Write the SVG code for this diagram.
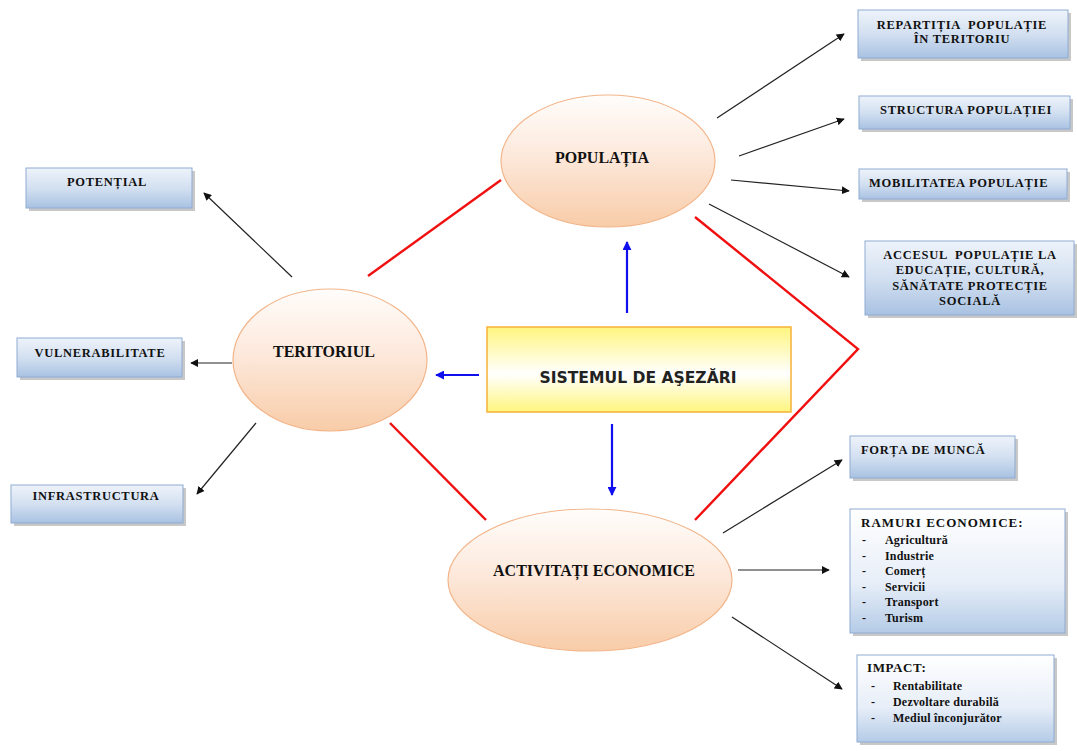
<svg xmlns="http://www.w3.org/2000/svg" width="1077" height="751" viewBox="0 0 1077 751">
<defs>
<linearGradient id="gEll" x1="0" y1="0" x2="0" y2="1">
<stop offset="0" stop-color="#fffdfb"/>
<stop offset="0.45" stop-color="#fde9dc"/>
<stop offset="1" stop-color="#f8cca8"/>
</linearGradient>
<linearGradient id="gBox" x1="0" y1="0" x2="0" y2="1">
<stop offset="0" stop-color="#eef3fa"/>
<stop offset="0.5" stop-color="#d3e0f1"/>
<stop offset="1" stop-color="#a9c2e2"/>
</linearGradient>
<linearGradient id="gBoxV" x1="0" y1="0" x2="0" y2="1">
<stop offset="0" stop-color="#ffffff"/>
<stop offset="0.6" stop-color="#e7eef8"/>
<stop offset="1" stop-color="#b4cbe7"/>
</linearGradient>
<linearGradient id="gSys" x1="0" y1="0" x2="0" y2="1">
<stop offset="0" stop-color="#fff57e"/>
<stop offset="0.55" stop-color="#ffffff"/>
<stop offset="1" stop-color="#fff57e"/>
</linearGradient>
<marker id="ab" viewBox="0 0 10 10" refX="9" refY="5" markerWidth="8" markerHeight="8" markerUnits="userSpaceOnUse" orient="auto">
<path d="M0,0 L10,5 L0,10 z" fill="#111"/>
</marker>
<marker id="abl" viewBox="0 0 10 10" refX="9" refY="5" markerWidth="9" markerHeight="9" markerUnits="userSpaceOnUse" orient="auto">
<path d="M0,0 L10,5 L0,10 z" fill="#1010ee"/>
</marker>
</defs>
<style>
.ell{fill:url(#gEll);stroke:#f2b58a;stroke-width:1.2}
.box{fill:url(#gBox);stroke:#8fabd4;stroke-width:1}
.boxv{fill:url(#gBoxV);stroke:#8fabd4;stroke-width:1}
.sh{fill:#9a9a9a;opacity:0.55}
.t{font-family:"Liberation Serif","Times New Roman",serif;font-weight:bold;fill:#111}
.bt{font-size:12.5px;letter-spacing:0.7px}
.li{font-size:12px;letter-spacing:0.2px}
.el{font-size:16px}
.arr{stroke:#222;stroke-width:1.2;fill:none;marker-end:url(#ab)}
.blue{stroke:#1010ee;stroke-width:2.2;fill:none;marker-end:url(#abl)}
.red{stroke:#f01010;stroke-width:2.4;fill:none}
</style>
<rect width="1077" height="751" fill="#ffffff"/>

<g id="connectors">
<polyline class="red" points="368,276 501,180"/>
<polyline class="red" points="390,423 486,520"/>
<polyline class="red" points="695,217 858,349 695,520"/>
<line class="blue" x1="627" y1="313" x2="627" y2="242"/>
<line class="blue" x1="479" y1="375" x2="436" y2="375"/>
<line class="blue" x1="612" y1="424" x2="612" y2="495"/>
<line class="arr" x1="717" y1="118" x2="844" y2="34"/>
<line class="arr" x1="739" y1="156" x2="844" y2="119"/>
<line class="arr" x1="731" y1="180" x2="849" y2="191"/>
<line class="arr" x1="709" y1="204" x2="849" y2="277"/>
<line class="arr" x1="292" y1="277" x2="204" y2="193"/>
<line class="arr" x1="232" y1="363" x2="191" y2="363"/>
<line class="arr" x1="256" y1="423" x2="197" y2="494"/>
<line class="arr" x1="723" y1="533" x2="842" y2="460"/>
<line class="arr" x1="738" y1="570" x2="829" y2="570"/>
<line class="arr" x1="732" y1="617" x2="842" y2="689"/>
</g>

<g id="populatia">
<ellipse class="ell" cx="608" cy="161" rx="107" ry="66"/>
<text class="t el" x="602" y="163" text-anchor="middle">POPULAȚIA</text>
</g>
<g id="teritoriul">
<ellipse class="ell" cx="330" cy="360" rx="97" ry="71"/>
<text class="t el" x="324" y="357" text-anchor="middle">TERITORIUL</text>
</g>
<g id="activitati">
<ellipse class="ell" cx="590" cy="580" rx="142" ry="71"/>
<text class="t el" x="594" y="576" text-anchor="middle">ACTIVITAȚI ECONOMICE</text>
</g>
<g id="sistemul">
<rect x="487" y="327" width="304" height="85" fill="url(#gSys)" stroke="#f5b13a" stroke-width="1.5"/>
<text x="638" y="383" text-anchor="middle" textLength="197" lengthAdjust="spacingAndGlyphs" style="font-family:'DejaVu Sans',Verdana,sans-serif;font-size:16px;font-weight:bold;fill:#222">SISTEMUL DE AŞEZĂRI</text>
</g>

<g id="repartitia">
<rect class="sh" x="861" y="13" width="210" height="48"/>
<rect class="box" x="858" y="10" width="210" height="48"/>
<text class="t bt" x="962" y="29" text-anchor="middle" xml:space="preserve">REPARTIȚIA  POPULAȚIE</text>
<text class="t bt" x="962" y="43" text-anchor="middle">ÎN TERITORIU</text>
</g>
<g id="structura">
<rect class="sh" x="862" y="99" width="211" height="33"/>
<rect class="box" x="859" y="96" width="211" height="33"/>
<text class="t bt" x="966" y="114" text-anchor="middle">STRUCTURA POPULAȚIEI</text>
</g>
<g id="mobilitatea">
<rect class="sh" x="862" y="172" width="208" height="30"/>
<rect class="box" x="859" y="169" width="208" height="30"/>
<text class="t bt" x="869" y="187">MOBILITATEA POPULAȚIE</text>
</g>
<g id="accesul">
<rect class="sh" x="868" y="244" width="210" height="74"/>
<rect class="box" x="865" y="241" width="209" height="74"/>
<text class="t bt" x="970" y="259" text-anchor="middle" xml:space="preserve">ACCESUL  POPULAȚIE LA</text>
<text class="t bt" x="970" y="274" text-anchor="middle">EDUCAȚIE, CULTURĂ,</text>
<text class="t bt" x="970" y="290" text-anchor="middle">SĂNĂTATE PROTECȚIE</text>
<text class="t bt" x="970" y="305" text-anchor="middle">SOCIALĂ</text>
</g>
<g id="forta">
<rect class="sh" x="853" y="439" width="165" height="42"/>
<rect class="box" x="850" y="436" width="165" height="42"/>
<text class="t bt" x="861" y="454">FORȚA DE MUNCĂ</text>
</g>
<g id="ramuri">
<rect class="sh" x="853" y="512" width="215" height="124"/>
<rect class="boxv" x="850" y="509" width="215" height="124"/>
<text class="t" x="861" y="527" style="font-size:13px;letter-spacing:1px">RAMURI ECONOMICE:</text>
<text class="t li" x="862" y="544">-</text><text class="t li" x="885" y="544">Agricultură</text>
<text class="t li" x="862" y="560">-</text><text class="t li" x="885" y="560">Industrie</text>
<text class="t li" x="862" y="575">-</text><text class="t li" x="885" y="575">Comerț</text>
<text class="t li" x="862" y="591">-</text><text class="t li" x="885" y="591">Servicii</text>
<text class="t li" x="862" y="606">-</text><text class="t li" x="885" y="606">Transport</text>
<text class="t li" x="862" y="622">-</text><text class="t li" x="885" y="622">Turism</text>
</g>
<g id="impact">
<rect class="sh" x="860" y="658" width="197" height="87"/>
<rect class="boxv" x="857" y="655" width="197" height="87"/>
<text class="t" x="867" y="672" style="font-size:13px;letter-spacing:0.6px">IMPACT:</text>
<text class="t li" x="871" y="690">-</text><text class="t li" x="893" y="690">Rentabilitate</text>
<text class="t li" x="871" y="706">-</text><text class="t li" x="893" y="706">Dezvoltare durabilă</text>
<text class="t li" x="871" y="722">-</text><text class="t li" x="893" y="722">Mediul înconjurător</text>
</g>
<g id="potential">
<rect class="sh" x="29" y="171" width="166" height="40"/>
<rect class="box" x="26" y="168" width="166" height="40"/>
<text class="t bt" x="107" y="186" text-anchor="middle">POTENȚIAL</text>
</g>
<g id="vulnerabilitate">
<rect class="sh" x="20" y="341" width="165" height="39"/>
<rect class="box" x="17" y="338" width="165" height="39"/>
<text class="t bt" x="100" y="357" text-anchor="middle">VULNERABILITATE</text>
</g>
<g id="infrastructura">
<rect class="sh" x="14" y="488" width="172" height="38"/>
<rect class="box" x="11" y="485" width="172" height="38"/>
<text class="t bt" x="96" y="500" text-anchor="middle">INFRASTRUCTURA</text>
</g>
</svg>
